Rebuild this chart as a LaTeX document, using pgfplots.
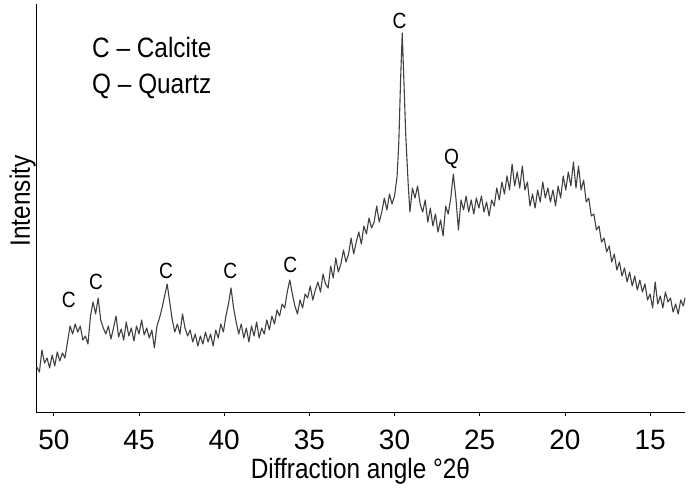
\documentclass[border=0pt]{standalone}
\usepackage{fontspec}
\setmainfont{Liberation Sans}
\newfontfamily\narrow{Liberation Sans}[FakeStretch=0.87]
\usepackage{pgfplots}
\usepackage{pgfplotstable}
\pgfplotsset{compat=1.18}
\pgfplotstableread{
x y
51.00 45
50.85 40
50.70 62
50.55 49
50.40 54
50.25 44
50.10 57
49.95 46
49.80 60
49.65 51
49.50 59
49.35 54
49.20 70
49.05 86
48.90 78
48.75 88
48.60 80
48.45 86
48.30 72
48.15 76
48.00 68
47.85 96
47.70 110
47.55 98
47.40 114
47.25 92
47.10 84
46.95 78
46.80 86
46.65 73
46.50 84
46.35 96
46.20 75
46.05 83
45.90 72
45.75 90
45.60 76
45.45 84
45.30 71
45.15 86
45.00 78
44.85 92
44.70 77
44.55 84
44.40 74
44.25 82
44.10 64
43.95 86
43.80 94
43.65 104
43.50 116
43.35 128
43.20 110
43.05 92
42.90 80
42.75 88
42.60 78
42.45 98
42.30 84
42.15 76
42.00 82
41.85 70
41.70 78
41.55 66
41.40 76
41.25 68
41.10 80
40.95 70
40.80 78
40.65 66
40.50 82
40.35 74
40.20 88
40.05 80
39.90 96
39.75 108
39.60 124
39.45 104
39.30 90
39.15 78
39.00 88
38.85 74
38.70 84
38.55 70
38.40 86
38.25 76
38.10 90
37.95 74
37.80 84
37.65 78
37.50 92
37.35 82
37.20 96
37.05 88
36.90 102
36.75 96
36.60 108
36.45 104
36.30 120
36.15 132
36.00 118
35.85 106
35.70 98
35.55 112
35.40 104
35.25 118
35.10 114
34.95 126
34.80 112
34.65 122
34.50 130
34.35 120
34.20 138
34.05 128
33.90 124
33.75 146
33.60 134
33.45 154
33.30 140
33.15 148
33.00 162
32.85 150
32.70 158
32.55 174
32.40 158
32.25 170
32.10 180
31.95 168
31.80 186
31.65 178
31.50 194
31.35 184
31.20 190
31.05 206
30.90 190
30.75 200
30.60 214
30.45 202
30.30 218
30.15 208
30.00 216
29.85 236
29.75 270
29.65 330
29.55 379
29.45 330
29.35 280
29.30 262
29.20 228
29.10 200
28.95 224
28.80 214
28.65 226
28.50 208
28.35 200
28.20 212
28.05 190
27.90 204
27.75 186
27.60 198
27.45 180
27.30 192
27.15 176
27.00 206
26.85 198
26.70 214
26.55 238
26.40 214
26.25 182
26.10 212
25.95 202
25.80 216
25.65 200
25.50 212
25.35 198
25.20 214
25.05 204
24.90 216
24.75 200
24.60 210
24.45 196
24.30 212
24.15 206
24.00 224
23.85 212
23.70 230
23.55 218
23.40 236
23.25 222
23.10 248
22.95 226
22.80 240
22.65 224
22.50 246
22.35 222
22.20 230
22.05 206
21.90 218
21.75 204
21.60 222
21.45 210
21.30 230
21.15 214
21.00 224
20.85 210
20.70 222
20.55 206
20.40 226
20.25 214
20.10 236
19.95 222
19.80 240
19.65 226
19.50 250
19.35 224
19.20 246
19.05 222
18.90 232
18.75 210
18.60 214
18.45 196
18.30 198
18.15 182
18.00 186
17.85 170
17.70 174
17.55 160
17.40 166
17.25 150
17.10 158
16.95 142
16.80 150
16.65 136
16.50 144
16.35 130
16.20 140
16.05 126
15.90 136
15.75 122
15.60 132
15.45 120
15.30 128
15.15 112
15.00 118
14.85 104
14.70 130
14.55 108
14.40 116
14.25 104
14.10 120
13.95 110
13.80 114
13.65 100
13.50 108
13.35 98
13.20 112
13.05 106
12.95 114
}\xrd
\begin{document}
\begin{tikzpicture}
\begin{axis}[
  scale only axis,
  width=649pt, height=408pt,
  xmin=12.95, xmax=51.05, ymin=0, ymax=408,
  x dir=reverse,
  axis x line*=bottom, axis y line*=left,
  axis line style={black, line width=0.8pt},
  xtick={15,20,...,50},
  ytick=\empty,
  tick align=outside,
  major tick length=4pt,
  tick style={black, line width=0.8pt},
  /pgf/number format/assume math mode=true,
  ticklabel style={font=\fontsize{28}{30}\selectfont},
  xticklabel style={anchor=base, yshift=-33pt},
  xlabel={\narrow\fontsize{28}{30}\selectfont Diffraction angle °2θ},
  xlabel style={at={(axis description cs:0.5,0)}, anchor=base, yshift=-66pt, inner sep=0pt},
  ylabel={\narrow\fontsize{28}{30}\selectfont Intensity},
  ylabel style={at={(axis description cs:0,0.527)}, anchor=south, rotate=0, xshift=-4pt, inner sep=0pt},
  clip=false,
]
\addplot[black!75, line width=1.1pt, line join=round] table[x=x, y=y] {\xrd};
\node[anchor=base west, inner sep=0pt, font=\narrow\fontsize{28}{30}\selectfont] at (axis cs:47.76,355) {C – Calcite};
\node[anchor=base west, inner sep=0pt, font=\narrow\fontsize{28}{30}\selectfont] at (axis cs:47.76,319) {Q – Quartz};
\begin{scope}[every node/.style={inner sep=0pt, font=\narrow\fontsize{22}{24}\selectfont}]
\node at (axis cs:49.12,112) {C};
\node at (axis cs:47.53,130) {C};
\node at (axis cs:43.41,141) {C};
\node at (axis cs:39.65,141) {C};
\node at (axis cs:36.12,147) {C};
\node at (axis cs:29.71,391) {C};
\node at (axis cs:26.65,253) {Q};
\end{scope}
\end{axis}
\path (current axis.south west) ++(-36pt,-76pt) rectangle ++(690pt,488pt);
\end{tikzpicture}
\end{document}
